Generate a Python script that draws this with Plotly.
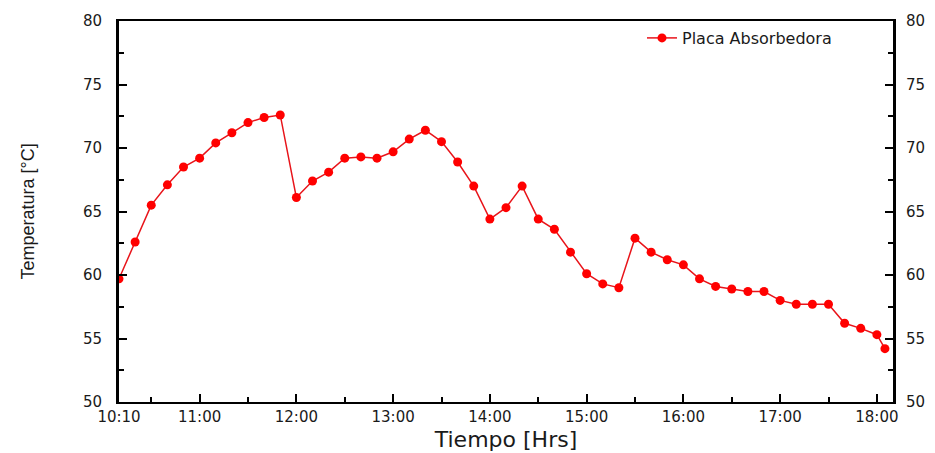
import plotly.graph_objects as go

# ---- data ----
times = ["10:10", "10:20", "10:30", "10:40", "10:50",
         "11:00", "11:10", "11:20", "11:30", "11:40", "11:50",
         "12:00", "12:10", "12:20", "12:30", "12:40", "12:50",
         "13:00", "13:10", "13:20", "13:30", "13:40", "13:50",
         "14:00", "14:10", "14:20", "14:30", "14:40", "14:50",
         "15:00", "15:10", "15:20", "15:30", "15:40", "15:50",
         "16:00", "16:10", "16:20", "16:30", "16:40", "16:50",
         "17:00", "17:10", "17:20", "17:30", "17:40", "17:50",
         "18:00", "18:05"]
temp_placa = [59.7, 62.6, 65.5, 67.1, 68.5,
              69.2, 70.4, 71.2, 72.0, 72.4, 72.6,
              66.1, 67.4, 68.1, 69.2, 69.3, 69.2,
              69.7, 70.7, 71.4, 70.5, 68.9, 67.0,
              64.4, 65.3, 67.0, 64.4, 63.6, 61.8,
              60.1, 59.3, 59.0, 62.9, 61.8, 61.2,
              60.8, 59.7, 59.1, 58.9, 58.7, 58.7,
              58.0, 57.7, 57.7, 57.7, 56.2, 55.8,
              55.3, 54.2]
x_tick_labels = ["10:10", "11:00", "12:00", "13:00", "14:00",
                 "15:00", "16:00", "17:00", "18:00"]
x_minor_ticks = ["10:30", "11:30", "12:30", "13:30", "14:30",
                 "15:30", "16:30", "17:30"]
x_range = ["10:10", "18:10"]
y_ticks = [50, 55, 60, 65, 70, 75, 80]
y_range = [50, 80]
series_name = "Placa Absorbedora"

DAY = "2024-01-01 "
def d(t):
    return DAY + t

FONT = "DejaVu Sans"
TXT = "#1a1a1a"

fig = go.Figure()
fig.add_trace(go.Scatter(
    x=[d(t) for t in times], y=temp_placa, name=series_name,
    mode="lines+markers",
    line=dict(color="#e8141a", width=1.5),
    marker=dict(color="#ff0000", size=9, line=dict(width=0)),
))
# invisible trace to activate the right-hand axis
fig.add_trace(go.Scatter(
    x=[d(times[0])], y=[y_range[0]], yaxis="y2", mode="markers",
    marker=dict(opacity=0), showlegend=False, hoverinfo="skip",
))

fig.update_layout(
    width=935, height=453,
    margin=dict(l=119, r=42, t=21, b=51, autoexpand=False),
    paper_bgcolor="white", plot_bgcolor="white",
    font=dict(family=FONT, color=TXT, size=15),
    showlegend=True,
    legend=dict(x=(837 - 119) / (893 - 119), xanchor="right",
                y=1.0, yanchor="top",
                bgcolor="rgba(0,0,0,0)", borderwidth=0,
                font=dict(family=FONT, size=16, color=TXT)),
    xaxis=dict(
        type="date", range=[d(x_range[0]), d(x_range[1])],
        tickmode="array", tickvals=[d(t) for t in x_tick_labels],
        ticktext=x_tick_labels, automargin=False,
        ticks="inside", ticklen=8, tickwidth=2, tickcolor="black",
        minor=dict(tickmode="array", tickvals=[d(t) for t in x_minor_ticks],
                   ticks="inside", ticklen=5, tickwidth=2, tickcolor="black",
                   showgrid=False),
        showline=True, linecolor="black", linewidth=2, mirror=True,
        showgrid=False, zeroline=False,
        tickfont=dict(family=FONT, size=15, color=TXT),
        title=dict(text="Tiempo [Hrs]", standoff=7,
                   font=dict(family=FONT, size=22, color=TXT)),
    ),
    yaxis=dict(
        range=y_range, tickmode="array", tickvals=y_ticks, automargin=False,
        ticks="inside", ticklen=8, tickwidth=1.5, tickcolor="black",
        minor=dict(dtick=2.5, ticks="inside", ticklen=5, tickwidth=1.5,
                   tickcolor="black", showgrid=False),
        showline=True, linecolor="black", linewidth=3,
        showgrid=False, zeroline=False,
        ticklabelstandoff=11,
        tickfont=dict(family=FONT, size=15, color=TXT),
        title=dict(text="Temperatura [°C]", standoff=44,
                   font=dict(family="Liberation Sans", size=18, color=TXT)),
    ),
    yaxis2=dict(
        overlaying="y", side="right", anchor="x", automargin=False,
        range=y_range, tickmode="array", tickvals=y_ticks,
        ticks="inside", ticklen=8, tickwidth=1.5, tickcolor="black",
        minor=dict(dtick=2.5, ticks="inside", ticklen=5, tickwidth=1.5,
                   tickcolor="black", showgrid=False),
        showline=True, linecolor="black", linewidth=3,
        showgrid=False, zeroline=False,
        ticklabelstandoff=7,
        tickfont=dict(family=FONT, size=15, color=TXT),
    ),
)

# remove the browser's default 8px page margin so the 935x453 figure fits the window
fig.write_html("out.html", config={"displayModeBar": False},
               post_script="document.body.style.margin='0';")
